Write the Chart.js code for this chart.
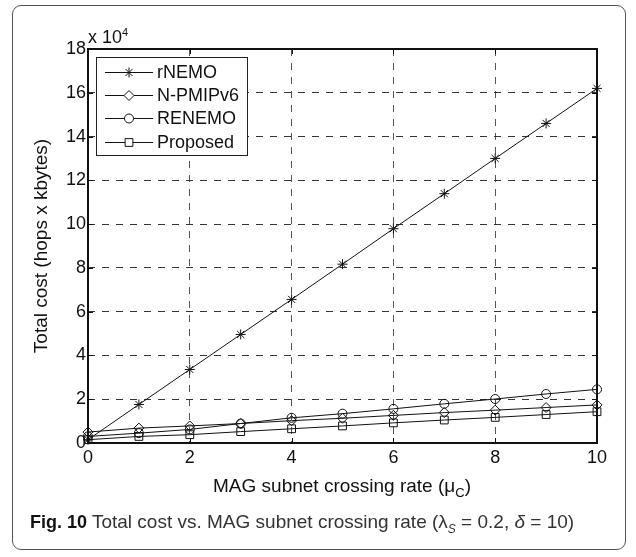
<!DOCTYPE html>
<html>
<head>
<meta charset="utf-8">
<script src="https://cdn.jsdelivr.net/npm/chart.js@4"></script>
<style>
  html, body { margin: 0; padding: 0; background: #fff; }
  #wrap { position: relative; width: 636px; height: 557px; overflow: hidden; font-family: "Liberation Sans", Arial, sans-serif; }
  #card { position: absolute; left: 12px; top: 5px; width: 614px; height: 545px; border: 1px solid #555; border-radius: 9px; box-sizing: border-box; }
  #chart { position: absolute; left: 0; top: 0; }
  #xexp { position: absolute; left: 88px; top: 26px; font-size: 18px; color: #111; }
  #xexp sup { font-size: 11px; }
  #xtitle { position: absolute; left: 0; width: 684px; top: 475px; text-align: center; font-size: 19px; color: #111; }
  #xtitle sub { font-size: 13px; }
  #caption { position: absolute; left: 30px; top: 511px; font-size: 19px; color: #333; white-space: nowrap; font-family: "Liberation Sans Narrow", "Liberation Sans", sans-serif; }
  #caption b { font-family: "Liberation Sans", sans-serif; font-size: 18px; color: #111; }
  #caption sub { font-size: 12px; font-style: italic; }
</style>
</head>
<body>
<div id="wrap">
  <div id="card"></div>
  <canvas id="chart" width="636" height="557"></canvas>
  <div id="xexp">x 10<sup>4</sup></div>
  <div id="xtitle">MAG subnet crossing rate (μ<sub>C</sub>)</div>
  <div id="caption"><b>Fig. 10</b> Total cost vs. MAG subnet crossing rate (λ<sub>S</sub> = 0.2, <i>δ</i> = 10)</div>
</div>
<script>
  // ------ Data (total cost in hops x kbytes) ------
  const crossingRate = [0, 1, 2, 3, 4, 5, 6, 7, 8, 9, 10];
  const rNemo     = [1500, 17600, 33600, 49600, 65600, 81700, 97900, 113900, 130000, 146000, 162000];
  const nPmipv6   = [5000, 6800, 7800, 8900, 10200, 11300, 12600, 13900, 15000, 16200, 17400];
  const renemo    = [3000, 4500, 6200, 8900, 11500, 13400, 15600, 17900, 20100, 22400, 24500];
  const proposed  = [1500, 3000, 3800, 5200, 6500, 7800, 9200, 10500, 11700, 13000, 14300];
  const seriesNames = ['rNEMO', 'N-PMIPv6', 'RENEMO', 'Proposed'];
  const xTicks = [0, 2, 4, 6, 8, 10];
  const yTicks = [0, 2, 4, 6, 8, 10, 12, 14, 16, 18]; // x 10^4

  const markers = [
    { style: 'star', radius: 5 },
    { style: 'rectRot', radius: 5 },
    { style: 'circle', radius: 4.5 },
    { style: 'rect', radius: 5.5 }
  ];
  const seriesData = [rNemo, nPmipv6, renemo, proposed];

  function mkSet(i) {
    return {
      label: seriesNames[i],
      data: crossingRate.map((x, k) => ({ x, y: seriesData[i][k] })),
      borderColor: '#111',
      borderWidth: 1,
      tension: 0,
      fill: false,
      pointStyle: markers[i].style,
      pointRadius: markers[i].radius,
      pointHoverRadius: markers[i].radius,
      pointBorderColor: '#111',
      pointBackgroundColor: 'rgba(0,0,0,0)',
      pointBorderWidth: 1,
      clip: false
    };
  }

  // box + inward ticks + legend
  const frame = {
    id: 'frame',
    afterDraw(chart) {
      const { ctx, chartArea: a, scales } = chart;
      ctx.save();
      ctx.strokeStyle = '#111';
      ctx.lineWidth = 1;
      ctx.beginPath();
      xTicks.forEach(v => {
        const px = Math.round(scales.x.getPixelForValue(v)) + 0.5;
        ctx.moveTo(px, a.bottom); ctx.lineTo(px, a.bottom - 5);
        ctx.moveTo(px, a.top); ctx.lineTo(px, a.top + 5);
      });
      yTicks.forEach(v => {
        const py = Math.round(scales.y.getPixelForValue(v * 1e4)) + 0.5;
        ctx.moveTo(a.left, py); ctx.lineTo(a.left + 5, py);
        ctx.moveTo(a.right, py); ctx.lineTo(a.right - 5, py);
      });
      ctx.stroke();
      ctx.lineWidth = 2;
      ctx.strokeRect(a.left, a.top, a.right - a.left, a.bottom - a.top);

      // legend box
      const lx = 96, ly = 57, lw = 151, lh = 98;
      ctx.fillStyle = '#fff';
      ctx.fillRect(lx, ly, lw, lh);
      ctx.lineWidth = 1;
      ctx.strokeStyle = '#222';
      ctx.strokeRect(lx + 0.5, ly + 0.5, lw, lh);
      const rows = [72, 95, 118, 142];
      ctx.font = '18px "Liberation Sans", Arial, sans-serif';
      ctx.textBaseline = 'middle';
      rows.forEach((y, i) => {
        ctx.strokeStyle = '#111';
        ctx.beginPath();
        ctx.moveTo(105, y + 0.5); ctx.lineTo(153, y + 0.5);
        ctx.stroke();
        ctx.fillStyle = '#fff';
        Chart.helpers.drawPoint(ctx, { pointStyle: markers[i].style, radius: markers[i].radius, rotation: 0, borderWidth: 1 }, 129, y + 0.5);
        ctx.fillStyle = '#111';
        ctx.fillText(seriesNames[i], 157, y + 1);
      });
      ctx.restore();
    }
  };

  const tickFont = { family: '"Liberation Sans", Arial, sans-serif', size: 18 };

  new Chart(document.getElementById('chart').getContext('2d'), {
    type: 'line',
    data: { datasets: [0, 1, 2, 3].map(mkSet) },
    options: {
      responsive: false,
      animation: false,
      layout: { padding: { top: 49, left: 0, right: 39, bottom: 84 } },
      plugins: { legend: { display: false }, tooltip: { enabled: false } },
      scales: {
        x: {
          type: 'linear', min: 0, max: 10,
          afterFit: s => { s.height = 30; },
          afterBuildTicks: s => { s.ticks = xTicks.map(v => ({ value: v })); },
          ticks: { color: '#111', font: tickFont, padding: 4, callback: v => String(v) },
          grid: { color: '#555', lineWidth: 1, drawTicks: false },
          border: { display: false, dash: [7, 7] }
        },
        y: {
          min: 0, max: 180000,
          afterFit: s => { s.width = 88; },
          afterBuildTicks: s => { s.ticks = yTicks.map(v => ({ value: v * 1e4 })); },
          ticks: { color: '#111', font: tickFont, padding: 2, callback: v => String(v / 1e4) },
          grid: { color: '#333', lineWidth: 1, drawTicks: false },
          border: { display: false, dash: [7, 7] },
          title: {
            display: true, text: 'Total cost (hops x kbytes)', color: '#111',
            font: { family: '"Liberation Sans", Arial, sans-serif', size: 19 },
            padding: { top: 30, bottom: 0 }
          }
        }
      }
    },
    plugins: [frame]
  });
</script>
</body>
</html>
